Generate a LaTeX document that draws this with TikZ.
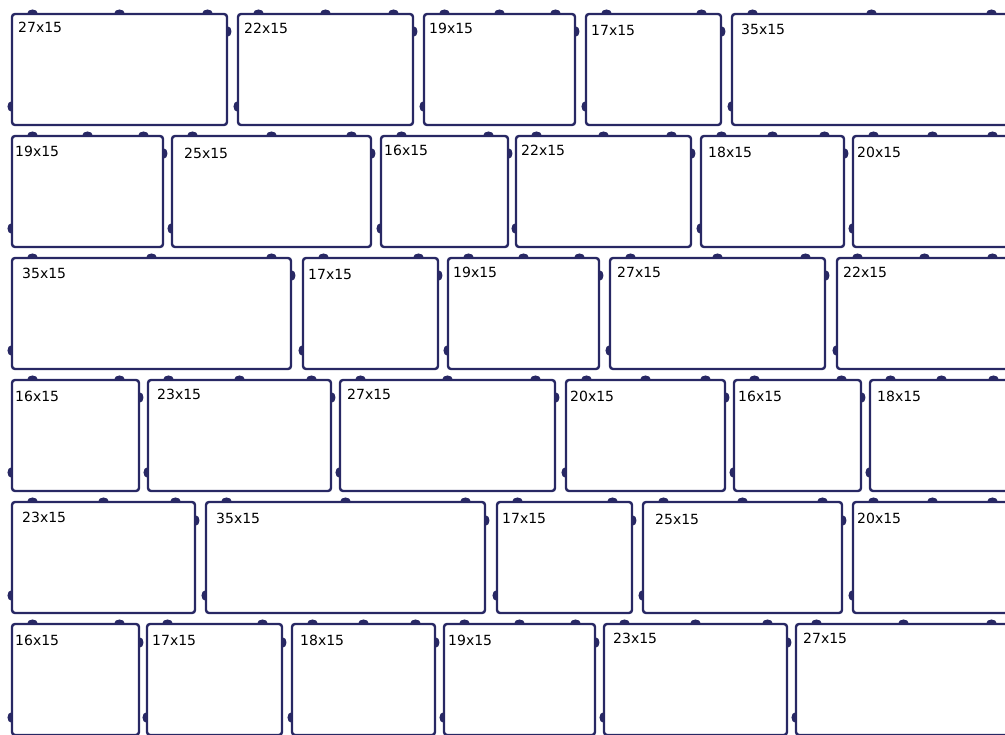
\documentclass[tikz,border=0pt]{standalone}
\usepackage{fontspec}
\usepackage{xcolor}
\usepackage{tikz}
\usetikzlibrary{positioning}
\newfontfamily\platefont{DejaVu Sans}
\definecolor{platenavy}{RGB}{40,40,100}

\begin{document}
\begin{tikzpicture}[x=1pt,y=-1pt,
  plate/.style={draw=platenavy, line width=2.4pt, rounded corners=3pt},
  stud/.style={fill=platenavy},
  platelabel/.style={anchor=west, inner sep=0pt, font=\platefont\fontsize{14}{16}\selectfont}]
\fill[white] (0,0) rectangle (1005,735);
\useasboundingbox (0,0) rectangle (1005,735);
\clip (0,0) rectangle (1005,735);

% row / left edge / width in units / label offset x / label offset y
\foreach \row/\xl/\wu/\tx/\ty in {
  1/12/27/6/13, 1/238/22/6/14, 1/424/19/5/14, 1/586/17/5/16, 1/732/35/9/15,
  2/12/19/3/15, 2/172/25/12/17, 2/381/16/3/14, 2/516/22/5/14, 2/701/18/7/16, 2/853/20/4/16,
  3/12/35/10/15, 3/303/17/5/16, 3/448/19/5/14, 3/610/27/7/14, 3/837/22/6/14,
  4/12/16/3/16, 4/148/23/9/14, 4/340/27/7/14, 4/566/20/4/16, 4/734/16/4/16, 4/870/18/7/16,
  5/12/23/10/15, 5/206/35/10/16, 5/497/17/5/16, 5/643/25/12/17, 5/853/20/4/16,
  6/12/16/3/16, 6/147/17/5/16, 6/292/18/8/16, 6/444/19/4/16, 6/604/23/9/14, 6/796/27/7/14}
{
  \pgfmathsetmacro\ytop{14+(\row-1)*122}
  \pgfmathsetmacro\ybot{\ytop+111}
  \pgfmathsetmacro\xr{\xl+8*\wu-1}
  \draw[plate] (\xl,\ytop) rectangle (\xr,\ybot);
  % studs on top: 2.5 units in from each end, one more in the middle
  \pgfmathsetmacro\sa{\xl+20}
  \pgfmathsetmacro\sb{\xr-20}
  \pgfmathsetmacro\sm{(\sa+\sb)/2}
  \fill[stud] (\sa-5.5,\ytop) .. controls (\sa-5.5,\ytop-6) and (\sa+5.5,\ytop-6) .. (\sa+5.5,\ytop) -- cycle;
  \fill[stud] (\sb-5.5,\ytop) .. controls (\sb-5.5,\ytop-6) and (\sb+5.5,\ytop-6) .. (\sb+5.5,\ytop) -- cycle;
  \ifnum\wu>17
    \fill[stud] (\sm-5.5,\ytop) .. controls (\sm-5.5,\ytop-6) and (\sm+5.5,\ytop-6) .. (\sm+5.5,\ytop) -- cycle;
  \fi
  % side studs
  \fill[stud] (\xr,\ytop+12.5) .. controls (\xr+6,\ytop+12.5) and (\xr+6,\ytop+23.5) .. (\xr,\ytop+23.5) -- cycle;
  \fill[stud] (\xl,\ybot-23.5) .. controls (\xl-6,\ybot-23.5) and (\xl-6,\ybot-12.5) .. (\xl,\ybot-12.5) -- cycle;
  \node[platelabel] (lab-\row-\xl) at (\xl+\tx,\ytop+\ty) {\wu x15};
}
\end{tikzpicture}
\end{document}
